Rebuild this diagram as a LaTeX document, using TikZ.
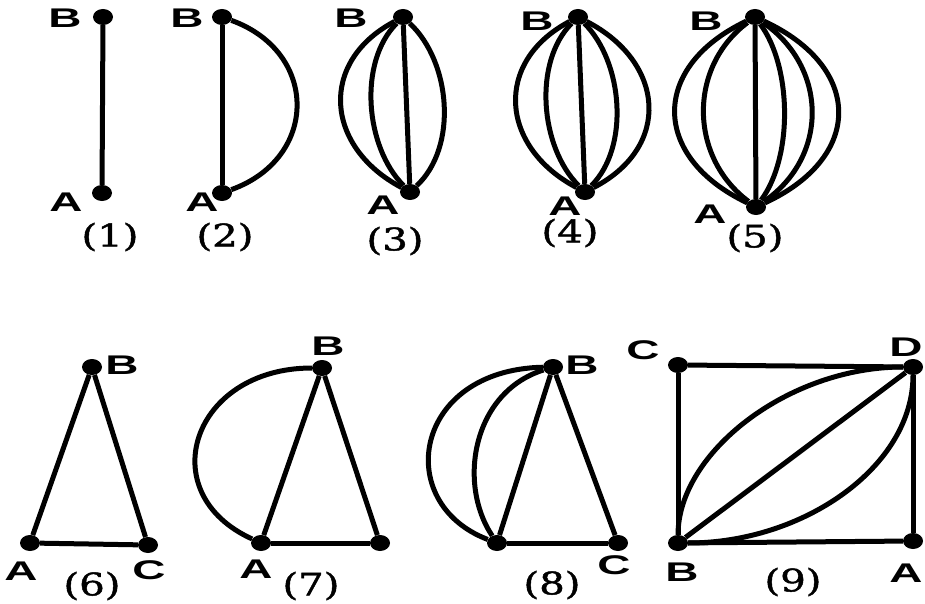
\documentclass[tikz,border=0pt]{standalone}
\usepackage{fontspec}
\newfontfamily\lblfont[FakeStretch=1.7]{Liberation Sans}
\newfontfamily\capfont[FakeStretch=1.3,FakeBold=1.5]{DejaVu Serif}
\usetikzlibrary{shapes.geometric}

\begin{document}
\begin{tikzpicture}[x=1pt,y=-1pt,
    vdot/.style={ellipse,fill=black,minimum width=20pt,minimum height=16pt,inner sep=0pt},
    lbl/.style={font=\lblfont\bfseries\fontsize{27}{27}\selectfont,inner sep=0pt},
    numcap/.style={font=\capfont\fontsize{31}{31}\selectfont,inner sep=0pt},
    link/.style={line width=5pt}]
      \useasboundingbox (0,0) rectangle (925,604);
      \clip (0,0) rectangle (925,604);
      % top row: multiple edges between A and B
      \node[vdot] (b1) at (103,17) {};
      \node[vdot] (a1) at (102,193) {};
      \node[vdot] (b2) at (222,17) {};
      \node[vdot] (a2) at (222,193) {};
      \node[vdot] (b3) at (403,17) {};
      \node[vdot] (a3) at (410,192) {};
      \node[vdot] (b4) at (578,17) {};
      \node[vdot] (a4) at (585,192) {};
      \node[vdot] (b5) at (755,17) {};
      \node[vdot] (a5) at (756,207) {};
      \node[lbl] (lb1) at (65,18) {B};
      \node[lbl] (la1) at (66,202) {A};
      \node[lbl] (lb2) at (187,18) {B};
      \node[lbl] (la2) at (202,202) {A};
      \node[lbl] (lb3) at (351,18) {B};
      \node[lbl] (la3) at (383,205) {A};
      \node[lbl] (lb4) at (537,21) {B};
      \node[lbl] (la4) at (565,206) {A};
      \node[lbl] (lb5) at (706,21) {B};
      \node[lbl] (la5) at (710,214) {A};
      \node[numcap] (n1) at (110,237) {(1)};
      \node[numcap] (n2) at (225,237) {(2)};
      \node[numcap] (n3) at (395,241) {(3)};
      \node[numcap] (n4) at (570,233) {(4)};
      \node[numcap] (n5) at (755,238) {(5)};
      \draw[link] (b1)--(a1);
      \draw[link] (b2)--(a2);
      \draw[link] (b2) .. controls +(97,35) and +(97,-35) .. (a2);
      \draw[link] (b3)--(a3);
      \draw[link] (b3) .. controls +(-85,45) and +(-85,-45) .. (a3);
      \draw[link] (b3) .. controls +(-45,45) and +(-45,-45) .. (a3);
      \draw[link] (b3) .. controls +(48,45) and +(48,-45) .. (a3);
      \draw[link] (b4)--(a4);
      \draw[link] (b4) .. controls +(-85,45) and +(-85,-45) .. (a4);
      \draw[link] (b4) .. controls +(-45,45) and +(-45,-45) .. (a4);
      \draw[link] (b4) .. controls +(45,45) and +(45,-45) .. (a4);
      \draw[link] (b4) .. controls +(87,45) and +(87,-45) .. (a4);
      \draw[link] (b5)--(a5);
      \draw[link] (b5) .. controls +(-105,50) and +(-105,-50) .. (a5);
      \draw[link] (b5) .. controls +(-67,50) and +(-67,-50) .. (a5);
      \draw[link] (b5) .. controls +(37,50) and +(37,-50) .. (a5);
      \draw[link] (b5) .. controls +(73,50) and +(73,-50) .. (a5);
      \draw[link] (b5) .. controls +(108,50) and +(108,-50) .. (a5);
      % bottom row: triangles and square
      \node[vdot] (a6) at (30,543) {};
      \node[vdot] (b6) at (92,367) {};
      \node[vdot] (c6) at (148,545) {};
      \node[vdot] (a7) at (261,543) {};
      \node[vdot] (b7) at (322,368) {};
      \node[vdot] (c7) at (380,543) {};
      \node[vdot] (a8) at (497,543) {};
      \node[vdot] (b8) at (553,367) {};
      \node[vdot] (c8) at (618,543) {};
      \node[vdot] (c9) at (678,365) {};
      \node[vdot] (d9) at (913,367) {};
      \node[vdot] (b9) at (678,543) {};
      \node[vdot] (a9) at (913,541) {};
      \node[lbl] (lb6) at (122,365) {B};
      \node[lbl] (la6) at (21,571) {A};
      \node[lbl] (lc6) at (149,570) {C};
      \node[lbl] (lb7) at (328,346) {B};
      \node[lbl] (la7) at (256,569) {A};
      \node[lbl] (lb8) at (582,365) {B};
      \node[lbl] (lc8) at (614,565) {C};
      \node[lbl] (lc9) at (643,350) {C};
      \node[lbl] (ld9) at (906,347) {D};
      \node[lbl] (lb9) at (682,572) {B};
      \node[lbl] (la9) at (906,573) {A};
      \node[numcap] (n6) at (92,586) {(6)};
      \node[numcap] (n7) at (311,586) {(7)};
      \node[numcap] (n8) at (552,585) {(8)};
      \node[numcap] (n9) at (793,582) {(9)};
      \draw[link] (a6)--(b6);
      \draw[link] (b6)--(c6);
      \draw[link] (a6)--(c6);
      \draw[link] (a7)--(b7);
      \draw[link] (b7)--(c7);
      \draw[link] (a7)--(c7);
      \draw[link] (b7) .. controls +(-130,0) and +(-110,-50) .. (a7);
      \draw[link] (a8)--(b8);
      \draw[link] (b8)--(c8);
      \draw[link] (a8)--(c8);
      \draw[link] (b8) .. controls +(-140,3) and +(-105,-40) .. (a8);
      \draw[link] (b8) .. controls +(-80,25) and +(-40,-60) .. (a8);
      \draw[link] (c9)--(d9);
      \draw[link] (c9)--(b9);
      \draw[link] (b9)--(a9);
      \draw[link] (d9)--(a9);
      \draw[link] (b9)--(d9);
      \draw[link] (b9) .. controls +(0,-90) and +(-125,0) .. (d9);
      \draw[link] (b9) .. controls +(125,0) and +(0,100) .. (d9);
    \end{tikzpicture}
\end{document}
